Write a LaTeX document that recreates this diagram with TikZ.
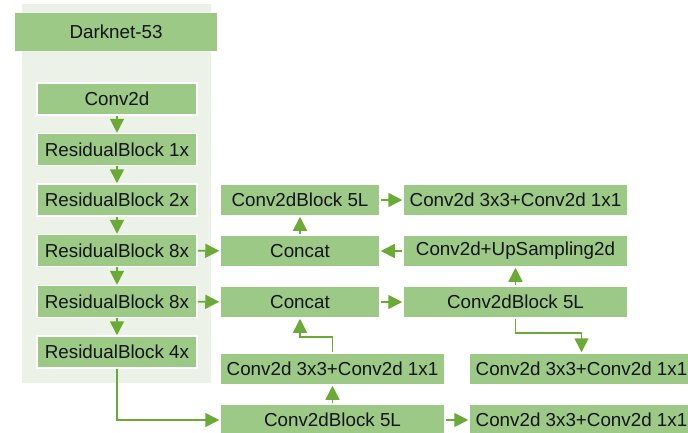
\documentclass[tikz,border=0pt]{standalone}
\usepackage{fontspec}
\setmainfont{Liberation Sans}
\usetikzlibrary{arrows.meta}

\definecolor{boxgreen}{RGB}{157,201,135}
\definecolor{arrowgreen}{RGB}{108,170,56}
\definecolor{panelgreen}{RGB}{236,242,232}
\definecolor{textdark}{RGB}{20,20,20}

\tikzset{
  blk/.style={fill=boxgreen, draw=white, line width=1.5pt, inner sep=0pt,
    minimum height=32pt, text=textdark,
    font=\fontsize{18.8}{21}\selectfont},
  narrow/.style={blk, minimum width=160pt},
  wide/.style={blk, minimum width=225pt},
  arr/.style={draw=arrowgreen, line width=1.6pt,
    -{Triangle[length=14pt,width=14pt]}, color=arrowgreen},
}

\begin{document}
\begin{tikzpicture}[x=1pt, y=-1pt]
  \useasboundingbox (0,0) rectangle (688,432);

  % backbone panel and its title
  \fill[panelgreen] (22,4) rectangle (211,383);
  \node[blk, minimum width=202pt, minimum height=38pt, draw=none] (title) at (116,32) {Darknet-53};

  % backbone stages
  \node[narrow] (conv) at (117,99)    {Conv2d};
  \node[narrow] (rb1)  at (117,149.5) {ResidualBlock 1x};
  \node[narrow] (rb2)  at (117,200)   {ResidualBlock 2x};
  \node[narrow] (rb3)  at (117,250.5) {ResidualBlock 8x};
  \node[narrow] (rb4)  at (117,301.5) {ResidualBlock 8x};
  \node[narrow] (rb5)  at (117,352)   {ResidualBlock 4x};

  % middle column
  \node[narrow] (cbA)  at (300,200)   {Conv2dBlock 5L};
  \node[narrow] (catA) at (300,251)   {Concat};
  \node[narrow] (catB) at (300,302)   {Concat};
  \node[wide]   (hdB)  at (332.5,369) {Conv2d 3x3+Conv2d 1x1};
  \node[wide]   (cbC)  at (332.5,420) {Conv2dBlock 5L};

  % right column
  \node[wide]   (hdA)  at (515.5,200) {Conv2d 3x3+Conv2d 1x1};
  \node[wide]   (up)   at (515.5,251) {Conv2d+UpSampling2d};
  \node[wide]   (cbB)  at (515.5,302) {Conv2dBlock 5L};
  \node[wide]   (hdC)  at (581.5,369) {Conv2d 3x3+Conv2d 1x1};
  \node[wide]   (hdD)  at (581.5,420) {Conv2d 3x3+Conv2d 1x1};

  % backbone flow
  \draw[arr] (conv) -- (rb1);
  \draw[arr] (rb1) -- (rb2);
  \draw[arr] (rb2) -- (rb3);
  \draw[arr] (rb3) -- (rb4);
  \draw[arr] (rb4) -- (rb5);

  % feature taps
  \draw[arr] (rb3) -- (catA);
  \draw[arr] (rb4) -- (catB);
  \draw[arr] (rb5.south) |- (cbC.west);

  % head connections
  \draw[arr] (cbC) -- (hdD);
  \draw[arr] (cbC) -- (hdB);
  \draw[arr] (hdB.north) -- ++(0,-15) -| (catB.south);
  \draw[arr] (catB) -- (cbB);
  \draw[arr] (cbB.south) -- ++(0,14) -| (hdC.north);
  \draw[arr] (cbB) -- (up);
  \draw[arr] (up) -- (catA);
  \draw[arr] (catA) -- (cbA);
  \draw[arr] (cbA) -- (hdA);
\end{tikzpicture}
\end{document}
